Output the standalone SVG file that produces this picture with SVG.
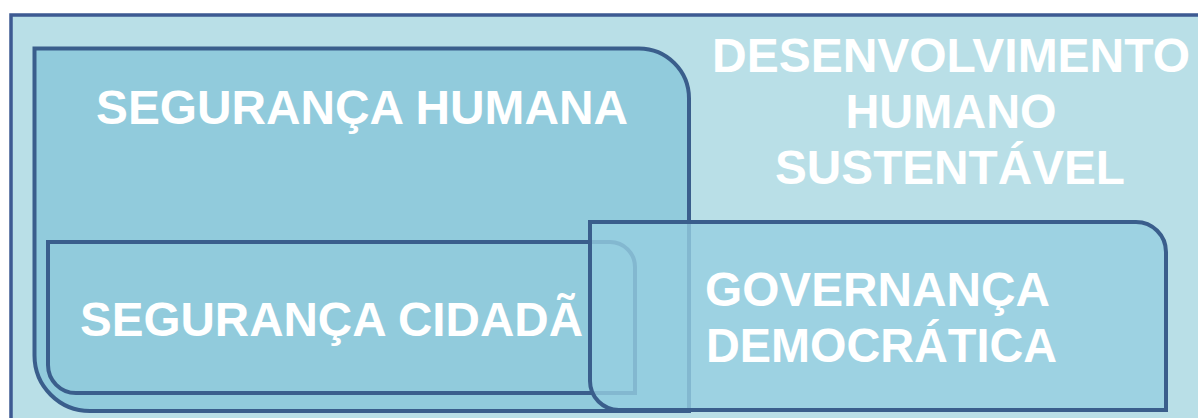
<svg xmlns="http://www.w3.org/2000/svg" width="1198" height="418" viewBox="0 0 1198 418">
  <style>
    .box { stroke: #3a5e8c; stroke-width: 4; }
    .lbl { font-family: "Liberation Sans", Arial, sans-serif; font-weight: bold; fill: #ffffff; font-size: 48px; }
  </style>
  <rect x="0" y="0" width="1198" height="418" fill="#ffffff"/>
  <g id="dhs">
    <rect x="11" y="15" width="1200" height="420" fill="#b9dfe7" stroke="#3d5a92" stroke-width="3.5"/>
    <text class="lbl" x="951" y="72" text-anchor="middle" textLength="478" lengthAdjust="spacingAndGlyphs">DESENVOLVIMENTO</text>
    <text class="lbl" x="951" y="128" text-anchor="middle" textLength="211" lengthAdjust="spacingAndGlyphs">HUMANO</text>
    <text class="lbl" x="950" y="184" text-anchor="middle" textLength="350" lengthAdjust="spacingAndGlyphs">SUSTENTÁVEL</text>
  </g>
  <g id="seguranca-humana">
    <path class="box" fill="#91cbdc" d="M34.5,48.5 H639 A50,50 0 0 1 689,98.5 V411 H90 A55.5,55.5 0 0 1 34.5,355.5 Z"/>
    <text class="lbl" x="96" y="124" textLength="532" lengthAdjust="spacingAndGlyphs">SEGURANÇA HUMANA</text>
  </g>
  <g id="seguranca-cidada">
    <path class="box" fill="#91cbdc" d="M48,242 H610 A25,25 0 0 1 635,267 V393 H76 A28,28 0 0 1 48,365 Z"/>
    <text class="lbl" x="80" y="336" textLength="503" lengthAdjust="spacingAndGlyphs">SEGURANÇA CIDADÃ</text>
  </g>
  <g id="governanca-democratica">
    <path d="M590,222 H1136 A30,30 0 0 1 1166,252 V410 H619 A29,29 0 0 1 590,381 Z" fill="#96cee1" fill-opacity="0.8"/>
    <path class="box" fill="none" d="M590,222 H1136 A30,30 0 0 1 1166,252 V410 H619 A29,29 0 0 1 590,381 Z"/>
    <text class="lbl" x="705" y="306" textLength="345" lengthAdjust="spacingAndGlyphs">GOVERNANÇA</text>
    <text class="lbl" x="706" y="362" textLength="351" lengthAdjust="spacingAndGlyphs">DEMOCRÁTICA</text>
  </g>
  <g id="connectors"/>
</svg>
